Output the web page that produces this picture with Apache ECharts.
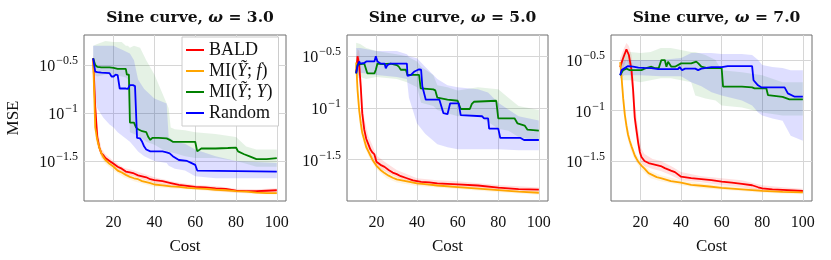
<!DOCTYPE html>
<html><head><meta charset="utf-8">
<script src="https://cdn.jsdelivr.net/npm/echarts@6/dist/echarts.min.js"></script>
<style>html,body{margin:0;padding:0;background:#fff}#c{width:831px;height:260px}</style>
</head><body><div id="c"></div>
<script>
// ---- labels ----
const seriesNames = ['BALD', 'MI(Ỹ; f)', 'MI(Ỹ; Y)', 'Random'];
const omegas = ['3.0', '5.0', '7.0'];
const xTicks = [20, 40, 60, 80, 100];
const yTicks = [-1.5, -1, -0.5];   // log10(MSE)

// ---- omega = 3.0 : [cost, log10 MSE] ----
const w3_bald = [[10,-0.43],[11,-0.93],[12,-1.25],[13,-1.36],[14,-1.42],[15,-1.44],[16,-1.47],[18,-1.5],[20,-1.53],[22,-1.56],[24,-1.58],[26,-1.61],[28,-1.62],[30,-1.63],[32,-1.65],[34,-1.66],[36,-1.67],[38,-1.69],[40,-1.7],[44,-1.71],[48,-1.73],[52,-1.75],[56,-1.76],[60,-1.77],[65,-1.775],[70,-1.785],[75,-1.79],[80,-1.81],[85,-1.815],[90,-1.815],[95,-1.81],[100,-1.805]];
const w3_mif = [[10,-0.45],[11,-1.15],[12,-1.28],[13,-1.36],[14,-1.42],[15,-1.46],[16,-1.49],[18,-1.53],[20,-1.56],[22,-1.6],[24,-1.62],[26,-1.645],[28,-1.665],[30,-1.68],[32,-1.69],[34,-1.71],[36,-1.72],[38,-1.73],[40,-1.745],[44,-1.755],[48,-1.765],[52,-1.77],[56,-1.78],[60,-1.785],[65,-1.79],[70,-1.8],[75,-1.805],[80,-1.815],[85,-1.82],[90,-1.83],[95,-1.835],[100,-1.835]];
const w3_miy = [[10,-0.43],[11,-0.5],[12,-0.52],[14,-0.525],[18,-0.525],[20,-0.53],[22,-0.54],[26,-0.54],[26.5,-0.6],[27.5,-0.6],[28,-1.1],[30,-1.1],[31,-1.15],[32,-1.17],[33,-1.18],[34,-1.19],[36,-1.2],[37,-1.25],[38,-1.28],[39,-1.26],[42,-1.26],[46,-1.265],[47.5,-1.28],[49,-1.3],[55,-1.3],[60,-1.3],[61,-1.4],[63,-1.37],[70,-1.37],[76,-1.365],[80,-1.36],[81,-1.4],[84,-1.43],[87,-1.455],[90,-1.48],[95,-1.48],[100,-1.47]];
const w3_rand = [[10,-0.43],[11,-0.57],[12,-0.575],[14,-0.58],[18,-0.585],[19,-0.62],[20,-0.62],[21,-0.6],[22,-0.605],[23,-0.745],[26,-0.745],[27,-0.75],[28,-0.71],[29.5,-0.71],[30.5,-0.72],[31.5,-1.26],[33,-1.265],[34,-1.3],[35,-1.35],[36,-1.38],[38,-1.4],[44,-1.4],[46,-1.41],[47.5,-1.42],[49,-1.45],[52,-1.49],[56,-1.5],[58,-1.52],[60,-1.54],[61,-1.6],[100,-1.61]];
// bands: [cost, low, high]
const w3_bald_band = [[10,-0.5,-0.38],[11,-1.05,-0.8],[12,-1.32,-1.15],[14,-1.46,-1.37],[16,-1.5,-1.43],[20,-1.56,-1.5],[25,-1.63,-1.57],[30,-1.66,-1.6],[40,-1.73,-1.67],[50,-1.77,-1.72],[60,-1.79,-1.75],[70,-1.81,-1.76],[80,-1.83,-1.79],[90,-1.835,-1.795],[100,-1.83,-1.785]];
const w3_mif_band = [[10,-0.5,-0.4],[11,-1.25,-1.05],[12,-1.35,-1.2],[14,-1.47,-1.38],[16,-1.53,-1.45],[20,-1.6,-1.52],[25,-1.67,-1.6],[30,-1.71,-1.65],[40,-1.77,-1.72],[50,-1.79,-1.75],[60,-1.8,-1.77],[70,-1.82,-1.78],[80,-1.83,-1.8],[90,-1.845,-1.815],[100,-1.85,-1.82]];
const w3_miy_band = [[10,-0.6,-0.3],[12,-0.62,-0.28],[16,-0.6,-0.25],[20,-0.6,-0.26],[24,-0.62,-0.26],[26,-0.63,-0.3],[27,-0.65,-0.3],[28,-1.2,-0.32],[30,-1.22,-0.3],[33,-1.25,-0.32],[36,-1.3,-0.45],[40,-1.33,-0.6],[44,-1.38,-0.8],[47,-1.4,-0.95],[48,-1.41,-1.15],[50,-1.42,-1.17],[55,-1.45,-1.18],[60,-1.47,-1.2],[70,-1.47,-1.22],[80,-1.5,-1.25],[85,-1.53,-1.35],[90,-1.56,-1.38],[100,-1.56,-1.38]];
const w3_rand_band = [[10,-0.75,-0.3],[12,-0.95,-0.3],[15,-1.05,-0.3],[18,-1.12,-0.3],[20,-1.15,-0.3],[22,-1.2,-0.32],[25,-1.25,-0.35],[28,-1.3,-0.38],[30,-1.35,-0.45],[32,-1.4,-0.65],[35,-1.45,-0.75],[40,-1.5,-0.85],[46,-1.52,-0.9],[47,-1.55,-1.25],[50,-1.58,-1.3],[55,-1.6,-1.32],[60,-1.66,-1.38],[70,-1.68,-1.45],[80,-1.68,-1.5],[100,-1.68,-1.52]];

// ---- omega = 5.0 ----
const w5_bald = [[10,-0.66],[10.7,-0.5],[11.5,-0.58],[12.3,-0.8],[13,-1.05],[14,-1.21],[15,-1.3],[16,-1.35],[17,-1.4],[18,-1.43],[19,-1.45],[20,-1.52],[21,-1.535],[22,-1.55],[24,-1.57],[26,-1.6],[28,-1.625],[30,-1.64],[32,-1.66],[35,-1.68],[38,-1.7],[42,-1.715],[46,-1.72],[50,-1.73],[55,-1.735],[60,-1.74],[70,-1.75],[80,-1.77],[90,-1.785],[100,-1.79]];
const w5_mif = [[10,-0.56],[10.7,-0.83],[11.5,-1.02],[12.3,-1.15],[13,-1.24],[14,-1.31],[15,-1.38],[16,-1.42],[17,-1.46],[18,-1.5],[20,-1.56],[22,-1.6],[24,-1.63],[26,-1.655],[28,-1.675],[30,-1.69],[35,-1.71],[40,-1.73],[45,-1.74],[50,-1.75],[60,-1.765],[70,-1.78],[80,-1.795],[90,-1.81],[100,-1.82]];
const w5_miy = [[10,-0.665],[10.7,-0.58],[11.5,-0.57],[14,-0.57],[14.7,-0.585],[15.5,-0.665],[19,-0.665],[19.7,-0.63],[20.5,-0.57],[23,-0.575],[27,-0.57],[30,-0.585],[31,-0.6],[32,-0.63],[34.5,-0.63],[35.3,-0.68],[41,-0.68],[41.8,-0.81],[48,-0.82],[49,-0.83],[50,-0.9],[55,-0.92],[60,-0.93],[61.5,-1.01],[66,-1.01],[67,-0.96],[68,-0.94],[79,-0.93],[80,-1.1],[88,-1.1],[89.5,-1.15],[93,-1.17],[94.4,-1.21],[100,-1.22]];
const w5_rand = [[10,-0.665],[10.7,-0.59],[11.5,-0.55],[12,-0.57],[14,-0.565],[15,-0.55],[19,-0.55],[19.7,-0.5],[20.5,-0.55],[22,-0.57],[24,-0.57],[24.6,-0.616],[25.4,-0.585],[27,-0.57],[35,-0.57],[35.3,-0.69],[37,-0.68],[38.5,-0.65],[41,-0.626],[42,-0.63],[42.6,-0.79],[44.3,-0.92],[51,-0.92],[51.7,-0.906],[53,-1.05],[55,-1.06],[56.3,-0.955],[60.5,-0.955],[61.5,-1.07],[72,-1.08],[73,-1.1],[75,-1.1],[75.5,-1.2],[80,-1.2],[81,-1.29],[91,-1.29],[92.7,-1.31],[100,-1.31]];
const w5_bald_band = [[10,-0.75,-0.55],[10.7,-0.6,-0.43],[11.5,-0.7,-0.45],[12.3,-0.95,-0.62],[13,-1.17,-0.9],[14,-1.3,-1.1],[16,-1.42,-1.27],[18,-1.49,-1.36],[20,-1.57,-1.46],[24,-1.61,-1.52],[30,-1.67,-1.6],[40,-1.74,-1.68],[50,-1.76,-1.7],[60,-1.77,-1.71],[80,-1.79,-1.745],[100,-1.81,-1.77]];
const w5_mif_band = [[10,-0.65,-0.45],[10.7,-0.93,-0.72],[12,-1.2,-1.05],[14,-1.36,-1.25],[16,-1.46,-1.37],[18,-1.53,-1.46],[20,-1.59,-1.52],[25,-1.68,-1.61],[30,-1.72,-1.66],[40,-1.755,-1.7],[50,-1.77,-1.73],[60,-1.785,-1.745],[80,-1.815,-1.775],[100,-1.84,-1.8]];
const w5_miy_band = [[10,-0.72,-0.37],[12,-0.7,-0.38],[15,-0.72,-0.42],[20,-0.7,-0.45],[30,-0.72,-0.48],[35,-0.75,-0.5],[40,-0.8,-0.55],[42,-0.95,-0.6],[48,-0.98,-0.68],[50,-1.02,-0.78],[55,-1.05,-0.8],[60,-1.08,-0.83],[70,-1.07,-0.8],[80,-1.2,-0.82],[85,-1.22,-0.9],[90,-1.28,-0.98],[100,-1.32,-1.02]];
const w5_rand_band = [[10,-0.72,-0.42],[12,-0.66,-0.42],[20,-0.68,-0.45],[30,-0.7,-0.45],[35,-0.72,-0.48],[36,-0.9,-0.5],[40,-1.15,-0.52],[44,-1.25,-0.6],[50,-1.35,-0.72],[55,-1.38,-0.78],[60,-1.4,-0.8],[70,-1.4,-0.82],[75,-1.4,-0.85],[80,-1.4,-0.95],[90,-1.41,-1.08],[100,-1.41,-1.12]];

// ---- omega = 7.0 ----
const w7_bald = [[10,-0.57],[11.5,-0.48],[13.1,-0.394],[14.3,-0.45],[15.6,-0.6],[16.4,-0.8],[17.2,-1.07],[18,-1.19],[18.9,-1.32],[19.7,-1.41],[20.5,-1.46],[22,-1.5],[24,-1.52],[26,-1.53],[28,-1.54],[30,-1.55],[32,-1.57],[35,-1.595],[37,-1.61],[40,-1.655],[45,-1.67],[50,-1.68],[55,-1.69],[60,-1.705],[65,-1.715],[70,-1.727],[75,-1.74],[78,-1.76],[80,-1.77],[85,-1.78],[90,-1.785],[100,-1.797]];
const w7_mif = [[10,-0.52],[10.7,-0.67],[11.5,-0.88],[12.3,-1.04],[13.1,-1.15],[13.9,-1.24],[14.7,-1.3],[15.6,-1.355],[16.4,-1.4],[17.2,-1.445],[18,-1.475],[19,-1.51],[20.5,-1.545],[22,-1.575],[24,-1.62],[26,-1.64],[28,-1.66],[30,-1.67],[35,-1.7],[40,-1.715],[45,-1.737],[50,-1.745],[55,-1.755],[60,-1.765],[70,-1.78],[80,-1.795],[90,-1.805],[100,-1.81]];
const w7_miy = [[10,-0.65],[11.5,-0.6],[13.1,-0.585],[14.7,-0.6],[20.5,-0.6],[22,-0.585],[25.4,-0.566],[27,-0.58],[29,-0.58],[30.3,-0.5],[32,-0.5],[32.8,-0.566],[33.6,-0.516],[34.4,-0.5],[35.2,-0.566],[37,-0.566],[40,-0.533],[45,-0.533],[47.5,-0.516],[48.5,-0.533],[50,-0.566],[53,-0.58],[60,-0.58],[60.7,-0.764],[70,-0.764],[75,-0.77],[76.2,-0.78],[82,-0.78],[82.8,-0.847],[90,-0.865],[93.4,-0.89],[100,-0.89]];
const w7_rand = [[10,-0.65],[10.7,-0.6],[12.3,-0.58],[13.9,-0.56],[16.4,-0.566],[19,-0.575],[22,-0.578],[25.4,-0.58],[28.7,-0.59],[35,-0.59],[38.5,-0.59],[39.3,-0.57],[40.5,-0.6],[42,-0.585],[47,-0.585],[48.4,-0.6],[50,-0.585],[55,-0.57],[60,-0.57],[63,-0.56],[75,-0.56],[75.7,-0.7],[77.9,-0.75],[79.5,-0.77],[91,-0.77],[92.6,-0.83],[96,-0.863],[100,-0.863]];
const w7_bald_band = [[10,-0.65,-0.48],[11.5,-0.58,-0.4],[13.1,-0.5,-0.33],[14.3,-0.55,-0.36],[15.6,-0.75,-0.45],[16.4,-0.95,-0.65],[17.2,-1.17,-0.92],[18,-1.28,-1.05],[19,-1.4,-1.2],[20.5,-1.52,-1.38],[22,-1.55,-1.43],[26,-1.58,-1.48],[30,-1.6,-1.5],[35,-1.64,-1.55],[40,-1.69,-1.61],[50,-1.71,-1.65],[60,-1.74,-1.67],[70,-1.76,-1.69],[80,-1.8,-1.74],[90,-1.81,-1.76],[100,-1.82,-1.775]];
const w7_mif_band = [[10,-0.58,-0.46],[11.5,-0.98,-0.78],[13,-1.22,-1.08],[15,-1.38,-1.28],[17,-1.48,-1.4],[20,-1.58,-1.5],[25,-1.67,-1.6],[30,-1.7,-1.64],[40,-1.74,-1.69],[50,-1.77,-1.72],[60,-1.785,-1.745],[80,-1.815,-1.775],[100,-1.83,-1.79]];
const w7_miy_band = [[10,-0.68,-0.55],[11.5,-0.7,-0.43],[15,-0.7,-0.42],[20,-0.72,-0.43],[25,-0.7,-0.42],[30,-0.68,-0.38],[35,-0.68,-0.38],[40,-0.7,-0.4],[45,-0.72,-0.42],[47,-0.85,-0.42],[52,-0.88,-0.45],[57,-0.9,-0.5],[60,-0.95,-0.6],[70,-0.97,-0.62],[80,-1.02,-0.65],[90,-1.05,-0.72],[100,-1.05,-0.72]];
const w7_rand_band = [[10,-0.68,-0.56],[12,-0.65,-0.5],[20,-0.65,-0.5],[30,-0.66,-0.5],[40,-0.66,-0.48],[45,-0.72,-0.43],[50,-0.76,-0.43],[55,-0.82,-0.43],[60,-0.85,-0.44],[70,-0.9,-0.44],[75,-0.95,-0.45],[78,-1.02,-0.5],[80,-1.05,-0.55],[85,-1.08,-0.57],[90,-1.1,-0.58],[94,-1.25,-0.6],[100,-1.3,-0.6]];

// ---- assembly ----
const panels = [
  {lines:[w3_bald,w3_mif,w3_miy,w3_rand], bands:[w3_bald_band,w3_mif_band,w3_miy_band,w3_rand_band]},
  {lines:[w5_bald,w5_mif,w5_miy,w5_rand], bands:[w5_bald_band,w5_mif_band,w5_miy_band,w5_rand_band]},
  {lines:[w7_bald,w7_mif,w7_miy,w7_rand], bands:[w7_bald_band,w7_mif_band,w7_miy_band,w7_rand_band]}
];
const colors = ['#ff0000','#ffa500','#008000','#0000ff'];
const bandOpacity = [0.12,0.12,0.1,0.13];
const FONT = 'Liberation Serif';
const TFONT = 'DejaVu Serif';
const gridBoxes = [
  {left:84, top:35, width:202, height:166},
  {left:347, top:35, width:201, height:166},
  {left:611, top:35, width:201, height:166}
];
const yRanges = [[-1.917,-0.1875],[-1.9,-0.294],[-1.896,-0.252]];

const chart = echarts.init(document.getElementById('c'), null, {renderer:'canvas'});

function bandSeries(band, color, op, gi){
  return {
    type:'custom', xAxisIndex:gi, yAxisIndex:gi, data:band, silent:true, z:1, clip:true,
    encode:{x:0, y:[1,2]},
    renderItem(params, api){
      if (params.dataIndex !== 0) return null;
      const pts = [];
      for (let i = 0; i < band.length; i++) pts.push(api.coord([band[i][0], band[i][2]]));
      for (let i = band.length - 1; i >= 0; i--) pts.push(api.coord([band[i][0], band[i][1]]));
      return {type:'polygon', shape:{points:pts}, style:{fill:color, opacity:op}};
    }
  };
}

const series = [];
panels.forEach((p, gi) => {
  p.bands.forEach((b, k) => series.push(bandSeries(b, colors[k], bandOpacity[k], gi)));
});
panels.forEach((p, gi) => {
  p.lines.forEach((d, k) => series.push({
    type:'line', name:seriesNames[k], xAxisIndex:gi, yAxisIndex:gi, data:d,
    symbol:'none', showSymbol:false, z:3,
    lineStyle:{color:colors[k], width:1.8}, itemStyle:{color:colors[k]}
  }));
});

const tickRich = {
  b:{fontFamily:FONT, fontSize:16, color:'#111', lineHeight:20, verticalAlign:'bottom'},
  s:{fontFamily:FONT, fontSize:12, color:'#111', lineHeight:20, verticalAlign:'top', padding:[0,0,0,1]}
};
function yFmt(v){
  const s = (Math.abs(v) === 1) ? '−1' : '−' + Math.abs(v);
  return '{b|10}{s|' + s + '}';
}

const xAxes = gridBoxes.map((g, i) => ({
  gridIndex:i, type:'value', min:5.5, max:104.5,
  name:'Cost', nameLocation:'middle', nameGap:37,
  nameTextStyle:{fontFamily:FONT, fontSize:17, color:'#111'},
  axisLine:{show:false},
  axisTick:{show:false, customValues:xTicks},
  axisLabel:{customValues:xTicks, fontFamily:FONT, fontSize:16, color:'#111', margin:14},
  splitLine:{show:true, lineStyle:{color:'#d6d6d6', width:1}}
}));
const yAxes = gridBoxes.map((g, i) => ({
  gridIndex:i, type:'value', min:yRanges[i][0], max:yRanges[i][1],
  name: i === 0 ? 'MSE' : '', nameLocation:'middle', nameGap:62,
  nameTextStyle:{fontFamily:FONT, fontSize:17, color:'#111'},
  axisLine:{show:false},
  axisTick:{show:false, customValues:yTicks},
  axisLabel:{customValues:yTicks, formatter:yFmt, rich:tickRich, margin:6},
  splitLine:{show:true, lineStyle:{color:'#d6d6d6', width:1}}
}));

const titleRich = {
  a:{fontFamily:TFONT, fontSize:15.5, fontWeight:'bold', color:'#111'},
  w:{fontFamily:TFONT, fontSize:15.5, fontWeight:'bold', fontStyle:'italic', color:'#111'}
};
const titles = gridBoxes.map((g, i) => ({
  text:'{a|Sine curve, }{w|ω}{a| = ' + omegas[i] + '}',
  left: g.left + g.width / 2, top:5, textAlign:'center',
  textStyle:{rich:titleRich}
}));

const legendLabel = {
  'BALD':'{t|BALD}',
  'MI(Ỹ; f)':'{t|MI(}{i|Ỹ}{t|; }{i|f}{t|)}',
  'MI(Ỹ; Y)':'{t|MI(}{i|Ỹ}{t|; }{i|Y}{t|)}',
  'Random':'{t|Random}'
};

chart.setOption({
  animation:false,
  backgroundColor:'#fff',
  title:titles,
  grid:gridBoxes.map(g => Object.assign({show:true, borderColor:'#6e6e6e', borderWidth:1, backgroundColor:'transparent', containLabel:false}, g)),
  xAxis:xAxes,
  yAxis:yAxes,
  legend:{
    data:seriesNames, orient:'vertical', left:182, top:37,
    itemWidth:18, itemHeight:2, icon:'rect', itemGap:3,
    backgroundColor:'#fff', borderColor:'#cccccc', borderWidth:1, padding:[4,6,4,4],
    formatter:n => legendLabel[n],
    textStyle:{rich:{
      t:{fontFamily:FONT, fontSize:18, color:'#111', lineHeight:20.5},
      i:{fontFamily:FONT, fontSize:18, fontStyle:'italic', color:'#111', lineHeight:20.5}
    }}
  },
  series:series
});
</script>
</body></html>
